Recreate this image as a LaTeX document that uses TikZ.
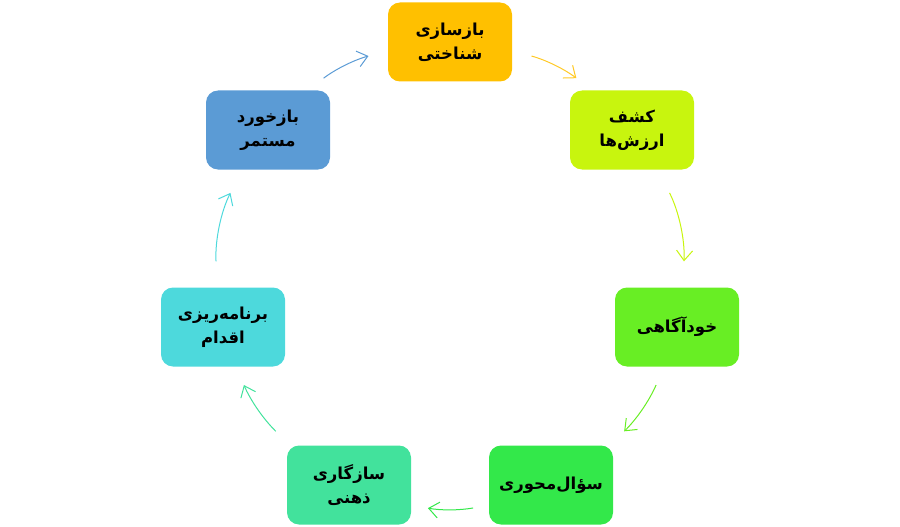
\documentclass[tikz,border=0pt]{standalone}
\usepackage{fontspec}
\newfontfamily\farsifont[Script=Arabic]{DejaVu Sans}
\TeXXeTstate=1
\usetikzlibrary{arrows.meta}

\definecolor{cOrange}{HTML}{FFC000}
\definecolor{cLime}{HTML}{C8F50E}
\definecolor{cGreen}{HTML}{68EE24}
\definecolor{cMid}{HTML}{33E84A}
\definecolor{cMint}{HTML}{42E29C}
\definecolor{cCyan}{HTML}{4DD9DC}
\definecolor{cBlue}{HTML}{5B9BD5}

\newcommand{\fa}[1]{\beginR#1\endR}

\tikzset{
  stagebox/.style={rounded corners=12pt, minimum width=124pt, minimum height=79pt,
    align=center, text=black, font=\farsifont\bfseries\fontsize{16.5}{24}\selectfont},
  cyclearrow/.style={-{Straight Barb[length=10pt,width=16pt]}, line width=1pt},
  sidegap/.style={bend left=11, shorten <=20pt, shorten >=20pt},
  downgap/.style={bend left=15, shorten <=26pt, shorten >=26pt},
  basegap/.style={bend left=10, shorten <=16pt, shorten >=17pt}
}

\begin{document}
\begin{tikzpicture}[x=1pt,y=1pt]
\useasboundingbox (0,0) rectangle (900,-527);

\node[stagebox, fill=cOrange] (restructure) at (450,-42) {\fa{بازسازی}\\\fa{شناختی}};
\node[stagebox, fill=cLime] (values) at (632,-130) {\fa{کشف}\\\fa{ارزش^^^^200cها}};
\node[stagebox, fill=cGreen] (aware) at (677,-327) {\fa{خودآگاهی}};
\node[stagebox, fill=cMid] (question) at (551,-485) {\fa{سؤال^^^^200cمحوری}};
\node[stagebox, fill=cMint] (adapt) at (349,-485) {\fa{سازگاری}\\\fa{ذهنی}};
\node[stagebox, fill=cCyan] (plan) at (223,-327) {\fa{برنامه^^^^200cریزی}\\\fa{اقدام}};
\node[stagebox, fill=cBlue] (feedback) at (268,-130) {\fa{بازخورد}\\\fa{مستمر}};

% arrows round the cycle
\draw[cyclearrow, sidegap, draw=cOrange!85] (restructure.-8) to (values.135);
\draw[cyclearrow, downgap, draw=cLime] (values.-57) to (aware.82);
\draw[cyclearrow, sidegap, draw=cGreen] (aware.-108) to (question.34);
\draw[cyclearrow, basegap, draw=cMid] (question.198) to (adapt.-18);
\draw[cyclearrow, sidegap, draw=cMint] (adapt.146) to (plan.-72);
\draw[cyclearrow, downgap, draw=cCyan] (plan.98) to (feedback.-123);
\draw[cyclearrow, sidegap, draw=cBlue] (feedback.45) to (restructure.188);
\end{tikzpicture}
\end{document}
